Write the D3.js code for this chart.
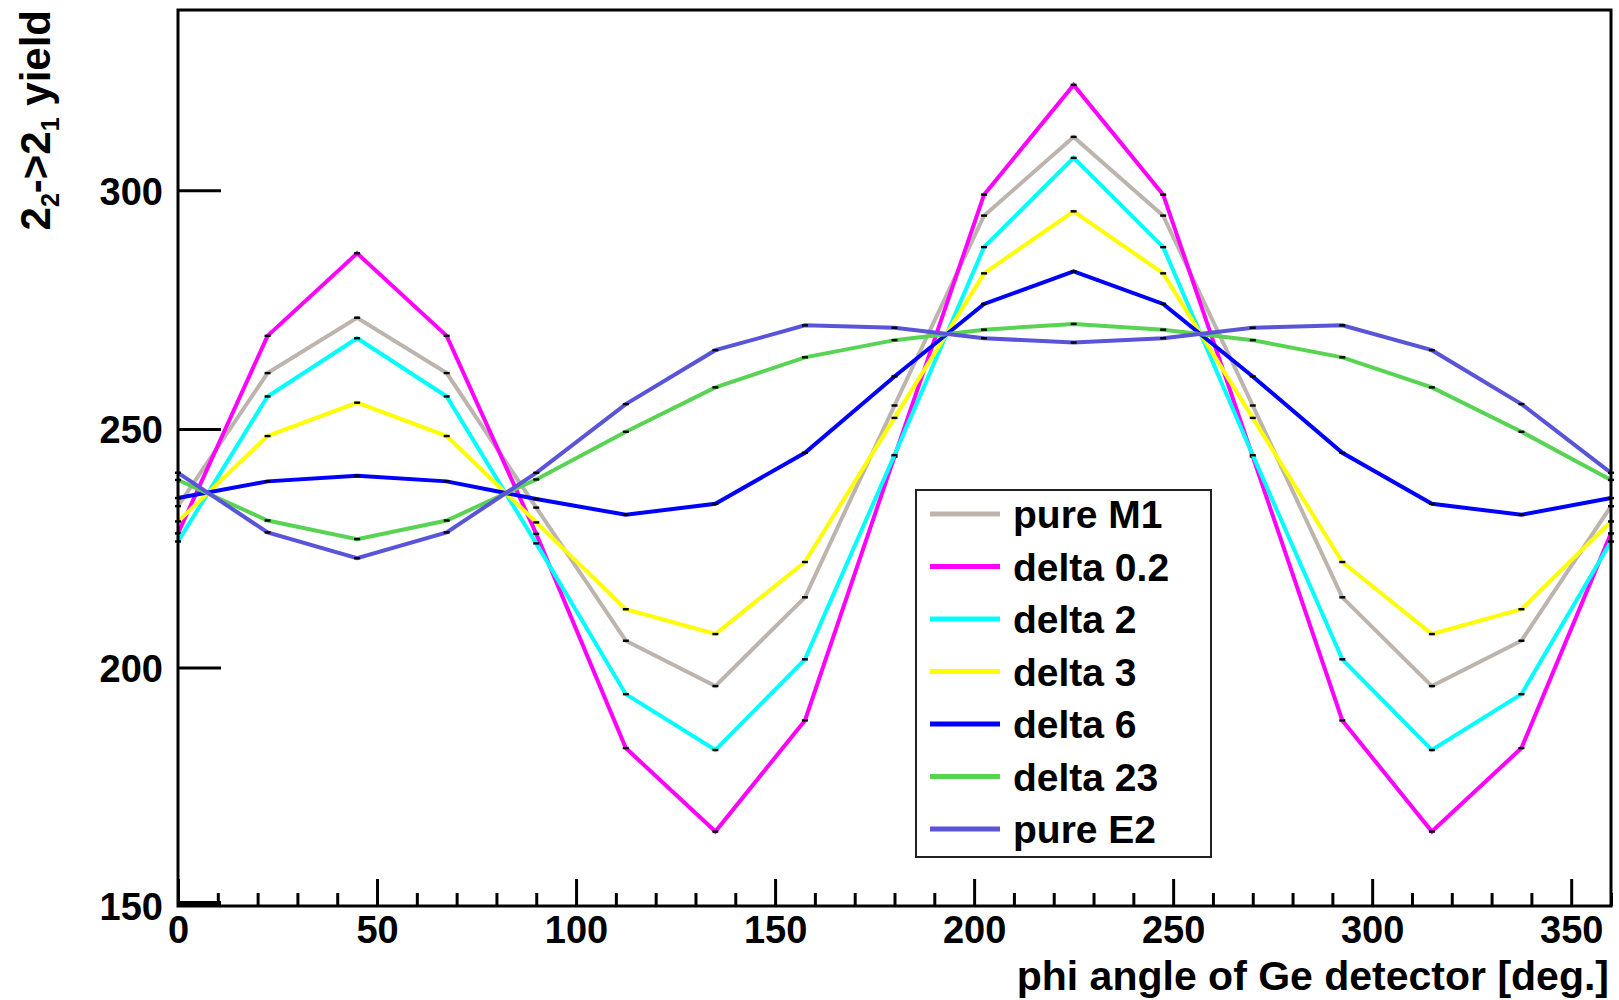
<!DOCTYPE html>
<html>
<head>
<meta charset="utf-8">
<script src="https://cdn.jsdelivr.net/npm/d3@7"></script>
<style>
  html, body { margin: 0; padding: 0; background: #fff; }
  svg { display: block; }
  text { font-family: "Liberation Sans", Arial, Helvetica, sans-serif; font-weight: bold; fill: #000; }
</style>
</head>
<body>
<svg id="chart" width="1619" height="1000"></svg>
<script>
// ---------------- DATA ----------------
const phiAngles = [0, 22.5, 45, 67.5, 90, 112.5, 135, 157.5, 180, 202.5, 225, 247.5, 270, 292.5, 315, 337.5, 360];

const seriesNames = ["pure M1", "delta 0.2", "delta 2", "delta 3", "delta 6", "delta 23", "pure E2"];
const seriesColors = ["#bdb5ad", "#ff00ff", "#00ffff", "#ffff00", "#0000ff", "#59d354", "#5954d8"];

const pureM1   = [233.8, 261.7, 273.3, 261.7, 233.5, 205.6, 196.1, 214.7, 254.9, 294.7, 311.2, 294.7, 254.9, 214.7, 196.1, 205.6, 233.8];
const delta0_2 = [228.1, 269.5, 286.8, 269.5, 228.0, 183.1, 165.6, 188.9, 244.2, 299.1, 322.1, 299.1, 244.2, 188.9, 165.6, 183.1, 228.1];
const delta2   = [226.4, 256.8, 269.0, 256.8, 226.0, 194.4, 182.7, 201.7, 244.5, 288.1, 306.8, 288.1, 244.5, 201.7, 182.7, 194.4, 226.4];
const delta3   = [230.6, 248.5, 255.5, 248.5, 230.4, 212.2, 207.0, 222.1, 252.3, 282.6, 295.6, 282.6, 252.3, 222.1, 207.0, 212.2, 230.6];
const delta6   = [235.5, 239.0, 240.2, 239.0, 235.3, 232.0, 234.3, 245.0, 261.0, 276.2, 283.0, 276.2, 261.0, 245.0, 234.3, 232.0, 235.5];
const delta23  = [239.3, 230.8, 226.9, 230.8, 239.4, 249.4, 258.7, 265.0, 268.6, 270.8, 272.0, 270.8, 268.6, 265.0, 258.7, 249.4, 239.3];
const pureE2   = [240.8, 228.3, 222.9, 228.3, 240.8, 255.2, 266.5, 271.7, 271.2, 269.0, 268.1, 269.0, 271.2, 271.7, 266.5, 255.2, 240.8];

const seriesValues = [pureM1, delta0_2, delta2, delta3, delta6, delta23, pureE2];

const xMajorTicks = [0, 50, 100, 150, 200, 250, 300, 350];
const yMajorTicks = [150, 200, 250, 300];
const xTitle = "phi angle of Ge detector [deg.]";

// ---------------- LAYOUT ----------------
const frame = { left: 178, right: 1611, top: 10, bottom: 906 };
const svg = d3.select("#chart");

const x = d3.scaleLinear().domain([0, 360]).range([frame.left, frame.right]);
const y = d3.scaleLinear().domain([150, 337.8]).range([frame.bottom, frame.top]);

// ---------------- SERIES ----------------
const line = d3.line().x((d, i) => x(phiAngles[i])).y(d => y(d));
const plot = svg.append("g");
seriesValues.forEach((vals, s) => {
  plot.append("path")
    .datum(vals)
    .attr("d", line)
    .attr("fill", "none")
    .attr("stroke", seriesColors[s])
    .attr("stroke-width", 4)
    .attr("stroke-linejoin", "miter");
  plot.selectAll(null)
    .data(vals)
    .enter().append("rect")
    .attr("x", (d, i) => x(phiAngles[i]) - 3)
    .attr("y", d => y(d) - 1.2)
    .attr("width", 6)
    .attr("height", 2.4)
    .attr("fill", "#000");
});

// ---------------- AXES ----------------
const xMinor = d3.range(0, 361, 10).filter(v => v % 50 !== 0);
const gxMinor = svg.append("g")
  .attr("transform", `translate(0,${frame.bottom})`)
  .call(d3.axisBottom(x).tickValues(xMinor).tickSize(-13).tickFormat(""));
gxMinor.select(".domain").remove();
gxMinor.selectAll("line").attr("stroke", "#000").attr("stroke-width", 3);

const gx = svg.append("g")
  .attr("transform", `translate(0,${frame.bottom})`)
  .call(d3.axisBottom(x).tickValues(xMajorTicks).tickSize(-27).tickFormat(d3.format("d")));
gx.select(".domain").remove();
gx.selectAll("line").attr("stroke", "#000").attr("stroke-width", 3);
gx.selectAll("text")
  .attr("y", 37).attr("dy", null)
  .attr("font-size", 38)
  .attr("font-family", "Liberation Sans, Arial, sans-serif")
  .attr("font-weight", "bold")
  .attr("fill", "#000");

const gy = svg.append("g")
  .attr("transform", `translate(${frame.left},0)`)
  .call(d3.axisLeft(y).tickValues(yMajorTicks).tickSize(-43).tickFormat(d3.format("d")));
gy.select(".domain").remove();
gy.selectAll("line").attr("stroke", "#000").attr("stroke-width", 3);
// the lowest tick sits just above the bottom axis line, appearing as a thick stub
gy.selectAll(".tick").filter(d => d === 150).select("line")
  .attr("transform", "translate(0,-3)").attr("stroke-width", 5);
gy.selectAll("text")
  .attr("x", -15).attr("dy", "0.36em")
  .attr("font-size", 38)
  .attr("font-family", "Liberation Sans, Arial, sans-serif")
  .attr("font-weight", "bold")
  .attr("fill", "#000");

// frame
svg.append("rect")
  .attr("x", frame.left).attr("y", frame.top)
  .attr("width", frame.right - frame.left).attr("height", frame.bottom - frame.top)
  .attr("fill", "none").attr("stroke", "#000").attr("stroke-width", 3);

// axis titles
svg.append("text")
  .attr("x", frame.right - 2).attr("y", 990)
  .attr("text-anchor", "end")
  .attr("font-size", 41)
  .text(xTitle);

const yt = svg.append("text")
  .attr("transform", `translate(50,${frame.top}) rotate(-90)`)
  .attr("text-anchor", "end")
  .attr("font-size", 42);
yt.append("tspan").text("2");
yt.append("tspan").attr("font-size", 25).attr("dy", 9).text("2");
yt.append("tspan").attr("dy", -9).text("->2");
yt.append("tspan").attr("font-size", 25).attr("dy", 9).text("1");
yt.append("tspan").attr("dy", -9).text(" yield");

// ---------------- LEGEND ----------------
const legend = { x0: 916, y0: 490, x1: 1211, y1: 857, rowStart: 514, rowStep: 52.5 };
const lg = svg.append("g");
lg.append("rect")
  .attr("x", legend.x0).attr("y", legend.y0)
  .attr("width", legend.x1 - legend.x0).attr("height", legend.y1 - legend.y0)
  .attr("fill", "#fff").attr("stroke", "#222").attr("stroke-width", 2);
seriesNames.forEach((name, i) => {
  const ry = legend.rowStart + i * legend.rowStep;
  lg.append("line")
    .attr("x1", 930).attr("x2", 1000).attr("y1", ry).attr("y2", ry)
    .attr("stroke", seriesColors[i]).attr("stroke-width", 5);
  lg.append("text")
    .attr("x", 1013).attr("y", ry + 14)
    .attr("font-size", 39)
    .text(name);
});
</script>
</body>
</html>
